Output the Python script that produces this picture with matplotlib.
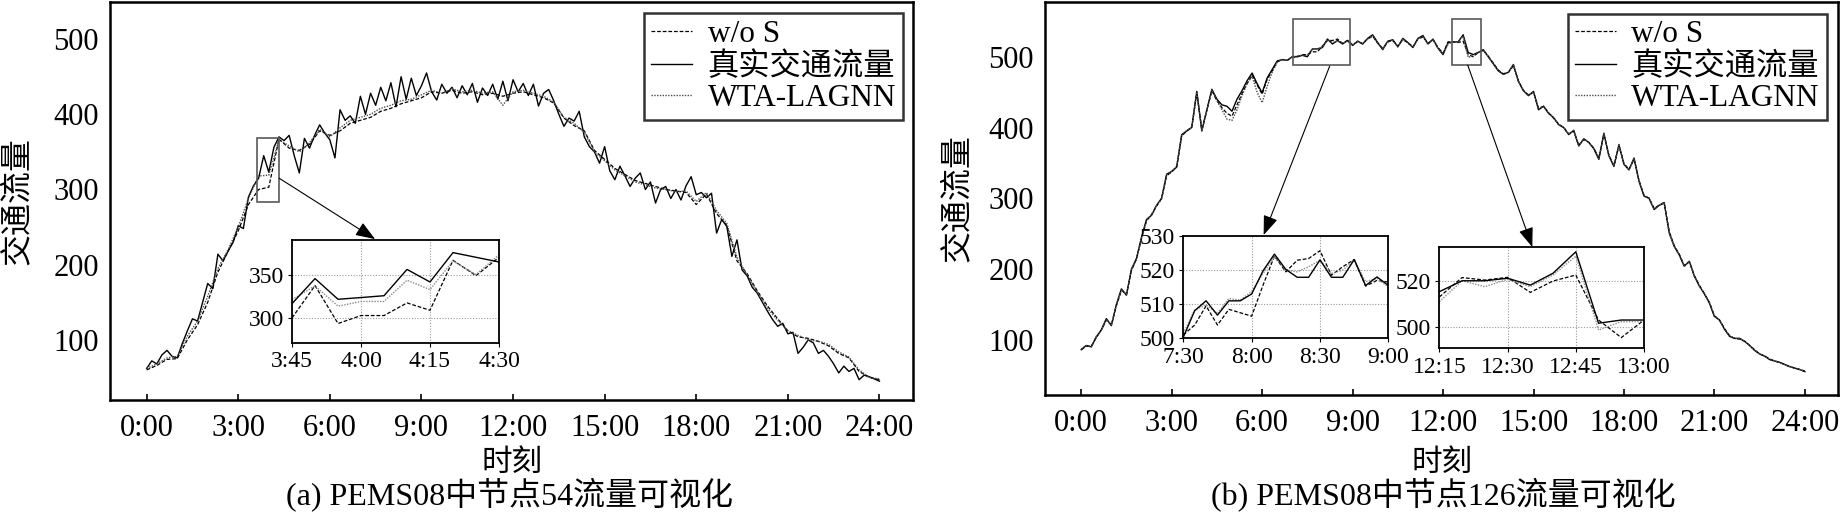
import numpy as np
import matplotlib
matplotlib.use("Agg")
import matplotlib.pyplot as plt
from matplotlib.patches import Rectangle

plt.rcParams['font.family'] = ['Liberation Serif', 'Noto Sans CJK SC']

# ---- panel (a): node 54, truth every 10 min, predictions every 20 min ----
a_true = [62, 72, 68, 80, 86, 78, 76, 95, 112, 128, 125, 150,
          175, 168, 214, 205, 218, 230, 252, 248, 290, 305, 315, 345,
          323, 356, 370, 365, 372, 345, 322, 368, 355, 372, 386, 375,
          366, 342, 406, 392, 398, 388, 424, 400, 428, 412, 436, 418,
          442, 410, 450, 420, 448, 425, 438, 455, 430, 419, 440, 428,
          436, 422, 438, 426, 441, 416, 435, 425, 440, 420, 444, 418,
          446, 430, 441, 425, 440, 411, 428, 433, 418, 400, 384, 395,
          391, 404, 370, 357, 350, 335, 357, 325, 313, 331, 318, 304,
          315, 322, 300, 310, 282, 300, 304, 288, 300, 286, 305, 317,
          293, 296, 289, 295, 242, 260, 251, 211, 233, 193, 185, 170,
          162, 150, 138, 127, 118, 122, 108, 110, 82, 90, 100, 96,
          82, 86, 78, 68, 56, 65, 58, 62, 47, 53, 51, 48,
          45]
a_wos = [60, 66, 74, 75, 100, 120,
         150, 190, 218, 245, 280, 300,
         303, 367, 355, 352, 360, 378,
         372, 378, 388, 392, 396, 404,
         408, 414, 418, 422, 430, 428,
         432, 428, 430, 426, 428, 424,
         428, 430, 426, 422, 415, 395,
         385, 378, 352, 340, 328, 320,
         312, 308, 304, 300, 298, 296,
         280, 294, 268, 252, 205, 188,
         165, 145, 128, 112, 104, 102,
         98, 92, 82, 76, 58, 50,
         47]
a_wta = [62, 68, 76, 78, 105, 125,
         158, 195, 220, 250, 288, 318,
         319, 366, 358, 350, 362, 380,
         370, 382, 392, 396, 400, 408,
         412, 418, 420, 426, 432, 428,
         434, 430, 432, 428, 430, 412,
         430, 432, 428, 424, 416, 396,
         388, 376, 350, 338, 326, 318,
         310, 306, 302, 300, 297, 298,
         284, 296, 272, 255, 210, 186,
         163, 142, 126, 112, 106, 100,
         98, 94, 84, 77, 60, 50,
         48]

# inset (a): 3:45 - 4:30, 5-min steps
ia_true = [316.5, 345.4, 321.5, 323.5, 325.6, 356, 341.5, 375.4, 370, 364.6]
ia_wta = [321, 337, 313.5, 319, 319, 343.5, 332.7, 365.8, 350, 373]
ia_wos = [300, 337.3, 293.5, 302.7, 302.7, 317.3, 308.8, 366.5, 348.8, 370]

# ---- panel (b): node 126, every 10 min ----
b_true = [86, 92, 90, 104, 114, 130, 120, 150, 172, 163, 200, 215,
          245, 270, 276, 290, 300, 334, 338, 344, 390, 395, 400, 451,
          395, 425, 454, 440, 432, 430, 423, 440, 452, 466, 477, 462,
          449, 470, 482, 494, 496, 495, 500, 500, 502, 500, 511, 511,
          513, 525, 518, 523, 518, 523, 516, 522, 518, 526, 531, 520,
          510, 522, 524, 514, 526, 520, 513, 526, 530, 518, 525, 512,
          503, 520, 521, 521, 531, 506, 503, 506, 510, 500, 490, 480,
          475, 478, 489, 465, 452, 445, 451, 425, 430, 420, 414, 404,
          400, 390, 396, 374, 384, 379, 370, 355, 392, 360, 345, 376,
          348, 340, 357, 324, 303, 300, 284, 290, 294, 251, 232, 220,
          204, 211, 190, 176, 165, 152, 133, 128, 115, 105, 102, 102,
          98, 92, 85, 80, 77, 72, 70, 68, 65, 62, 60, 58,
          55]
b_wos = [86, 91, 91, 103, 114, 128, 121, 148, 170, 164, 198, 214,
         243, 268, 277, 289, 300, 332, 337, 345, 388, 395, 401, 449,
         397, 424, 452, 438, 428, 420, 416, 432, 448, 462, 474, 460,
         447, 468, 480, 493, 496, 495, 499, 500, 503, 503, 507, 507,
         515, 523, 523, 525, 519, 523, 517, 521, 519, 525, 529, 519,
         512, 521, 523, 515, 524, 520, 514, 525, 528, 519, 524, 513,
         505, 521, 521, 520, 522, 503, 500, 506, 509, 501, 491, 481,
         476, 478, 487, 466, 452, 446, 450, 427, 430, 421, 413, 405,
         400, 391, 395, 375, 383, 379, 371, 357, 390, 361, 346, 374,
         349, 341, 355, 325, 304, 300, 286, 290, 293, 253, 233, 221,
         205, 210, 191, 177, 165, 153, 134, 128, 116, 106, 102, 101,
         98, 92, 86, 80, 77, 73, 70, 68, 65, 62, 60, 58,
         56]
b_wta = [87, 92, 90, 105, 113, 129, 121, 149, 171, 164, 199, 215,
         244, 269, 277, 290, 299, 333, 338, 345, 389, 396, 400, 450,
         396, 424, 453, 438, 425, 412, 410, 425, 445, 462, 472, 450,
         435, 458, 478, 492, 496, 495, 500, 501, 502, 502, 511, 511,
         514, 524, 520, 522, 519, 522, 516, 522, 518, 525, 530, 519,
         511, 521, 523, 514, 525, 519, 514, 525, 529, 518, 524, 512,
         504, 518, 521, 521, 529, 499, 502, 506, 509, 500, 490, 481,
         475, 478, 488, 465, 452, 446, 450, 426, 430, 420, 414, 404,
         400, 390, 396, 374, 384, 379, 370, 356, 391, 360, 346, 375,
         348, 340, 356, 324, 304, 300, 285, 290, 294, 252, 232, 220,
         204, 211, 190, 176, 165, 152, 133, 128, 115, 105, 102, 102,
         98, 92, 85, 80, 77, 72, 70, 68, 65, 62, 60, 58,
         55]

# inset (b1): 7:30 - 9:00, 5-min steps
ib1_true = [500.3, 508.1, 511, 506.8, 511, 511, 513, 519.8, 524.7, 520.2,
            517.9, 517.9, 523, 517.9, 517.9, 523.1, 515.5, 518, 515.5]
ib1_wos = [501, 503.9, 509.5, 503.9, 508.5, 507.5, 506.5, 515.6, 524.1, 519.5,
           522.9, 523.4, 525.7, 518.5, 521, 523.1, 515.3, 517, 516.5]
ib1_wta = [501.5, 508.3, 509.8, 507.3, 511.7, 511.2, 513.7, 519, 523.9, 520,
           519.5, 521, 522.9, 519, 520, 523.1, 516.6, 517.6, 515]

# inset (b2): 12:15 - 13:00, 5-min steps
ib2_true = [515.3, 520.1, 520.1, 521.2, 518.2, 523.4, 532.8, 501.5, 502.9, 502.9]
ib2_wos = [513, 521.5, 520.4, 521.6, 515, 520, 522.6, 502.9, 495.2, 502.9]
ib2_wta = [510.9, 520.1, 517.5, 520.7, 517.5, 522.6, 530.9, 498.5, 502.2, 502.2]

hour_ticks = [0, 3, 6, 9, 12, 15, 18, 21, 24]
hour_labels = ['0:00', '3:00', '6:00', '9:00', '12:00', '15:00', '18:00', '21:00', '24:00']

WOS = dict(color='black', lw=0.9, ls=(0, (3, 1.5)))
TRUE = dict(color='black', lw=1.0, ls='-')
WTA = dict(color='0.3', lw=1.0, ls=(0, (1, 1)))
IWTA = dict(color='0.55', lw=1.0, ls=(0, (1, 1)))


def t(vals, step_min):
    return np.arange(len(vals)) * step_min / 60.0


def main_panel(ax, true, wos, wta, wos_step, ylim):
    ax.plot(t(wos, wos_step), wos, label='w/o S', **WOS)
    ax.plot(t(true, 10), true, label='真实交通流量', **TRUE)
    ax.plot(t(wta, wos_step), wta, label='WTA-LAGNN', **WTA)
    ax.set_xlim(-1.2, 25.1)
    ax.set_ylim(*ylim)
    ax.set_yticks([100, 200, 300, 400, 500])
    ax.set_xticks(hour_ticks)
    ax.set_xticklabels(hour_labels)
    ax.tick_params(axis='x', direction='in', length=4, width=1.2, labelsize=22, pad=10)
    ax.tick_params(axis='y', length=0, labelsize=22, pad=8)
    for s in ax.spines.values():
        s.set_linewidth(1.8)
    ax.set_ylabel('交通流量', fontsize=23)
    ax.set_xlabel('时刻', fontsize=22)
    leg = ax.legend(loc='upper right', fontsize=22.5, handlelength=1.3,
                    handletextpad=0.5, labelspacing=0.08, borderpad=0.22,
                    fancybox=False, borderaxespad=0)
    leg.get_frame().set_edgecolor('black')
    leg.get_frame().set_linewidth(1.8)
    return leg


def inset(fig, rect, x0, step_min, true, wos, wta, xlim, ylim, xticks, xlabels, yticks):
    ia = fig.add_axes(rect)
    x = x0 + t(true, step_min)
    ia.plot(x, wos, **WOS)
    ia.plot(x, wta, **IWTA)
    ia.plot(x, true, **TRUE)
    ia.set_xlim(*xlim)
    ia.set_ylim(*ylim)
    ia.set_xticks(xticks)
    ia.set_xticklabels(xlabels)
    ia.set_yticks(yticks)
    ia.grid(True, color='0.6', ls=(0, (1, 1.5)), lw=0.8)
    ia.tick_params(direction='out', length=3, labelsize=17, pad=3)
    for s in ia.spines.values():
        s.set_linewidth(1.3)
    return ia


def box_and_arrow(ax, x0, y0, w, h, start, end):
    ax.add_patch(Rectangle((x0, y0), w, h, fill=False, ec='0.35', lw=1.2, zorder=5))
    ax.annotate('', xy=end, xytext=start,
                arrowprops=dict(arrowstyle='-|>,head_length=0.8,head_width=0.3',
                                mutation_scale=15, color='black', lw=0.8,
                                shrinkA=0, shrinkB=0), zorder=6)


fig = plt.figure(figsize=(18.46, 5.13), dpi=100)

ax_a = fig.add_axes([0.0596, 0.2203, 0.435, 0.7767])
leg = main_panel(ax_a, a_true, a_wos, a_wta, 20, (20, 550))
leg.set_bbox_to_anchor((0.9875, 0.970), transform=ax_a.transAxes)
ax_a.yaxis.set_label_coords(-0.096, 0.5)
ax_a.xaxis.set_label_coords(0.5, -0.122)
box_and_arrow(ax_a, 3.62, 283.6, 0.72, 85.4, (4.34, 315), (7.48, 234))
inset(fig, [0.1582, 0.3314, 0.1121, 0.2008], 3.75, 5, ia_true, ia_wos, ia_wta,
      (3.75, 4.5), (271, 390), [3.75, 4.0, 4.25, 4.5],
      ['3:45', '4:00', '4:15', '4:30'], [300, 350])

ax_b = fig.add_axes([0.5661, 0.230, 0.4296, 0.767])
leg = main_panel(ax_b, b_true, b_wos, b_wta, 10, (22, 578))
leg.set_bbox_to_anchor((0.9857, 0.9695), transform=ax_b.transAxes)
ax_b.yaxis.set_label_coords(-0.091, 0.5)
ax_b.xaxis.set_label_coords(0.5, -0.137)
box_and_arrow(ax_b, 7.03, 488, 1.88, 65.7, (8.24, 486.7), (6.05, 248))
box_and_arrow(ax_b, 12.31, 488, 0.95, 65.7, (12.82, 488), (14.96, 231))
inset(fig, [0.641, 0.3405, 0.1111, 0.1994], 7.5, 5, ib1_true, ib1_wos, ib1_wta,
      (7.5, 9.0), (500, 530), [7.5, 8.0, 8.5, 9.0],
      ['7:30', '8:00', '8:30', '9:00'], [500, 510, 520, 530])
inset(fig, [0.7797, 0.3210, 0.1109, 0.198], 12.25, 5, ib2_true, ib2_wos, ib2_wta,
      (12.25, 13.0), (490.5, 535), [12.25, 12.5, 12.75, 13.0],
      ['12:15', '12:30', '12:45', '13:00'], [500, 520])

fig.text(510 / 1846, 19 / 513, '(a) PEMS08中节点54流量可视化', ha='center', va='center', fontsize=23)
fig.text(1443 / 1846, 19 / 513, '(b) PEMS08中节点126流量可视化', ha='center', va='center', fontsize=23)

fig.savefig('out.png', dpi=100)
